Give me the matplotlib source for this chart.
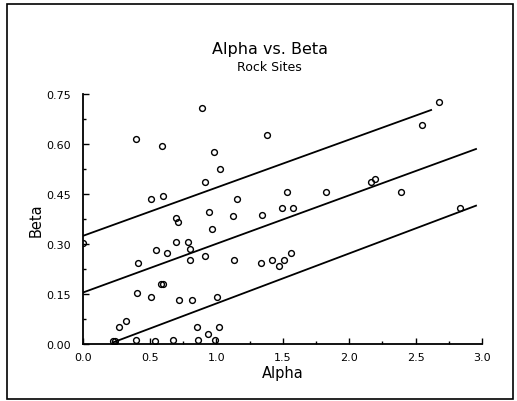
import matplotlib
matplotlib.use('Agg')
import matplotlib.pyplot as plt
from matplotlib.patches import Rectangle
from matplotlib.ticker import MultipleLocator

# Datos
alpha = [0.89, 0.395, 0.589, 0.985, 1.028, 0.917, 0.506, 0.601, 1.153, 0.694,
         0.714, 0.945, 1.128, 0.965, 0.0, 0.548, 0.626, 0.694, 0.785, 0.802,
         0.917, 0.804, 1.133, 0.41, 0.40, 0.508, 0.58, 0.60, 0.717, 0.817,
         1.008, 0.267, 0.318, 0.857, 1.018, 0.937, 0.22, 0.24, 0.393, 0.538,
         0.674, 0.86, 0.99, 2.679, 2.549, 1.384, 1.535, 1.828, 2.163, 2.193,
         2.393, 1.344, 1.497, 1.58, 2.833, 1.339, 1.417, 1.475, 1.512, 1.563]
beta = [0.707, 0.616, 0.595, 0.577, 0.526, 0.486, 0.435, 0.445, 0.436, 0.377,
        0.365, 0.395, 0.385, 0.345, 0.303, 0.283, 0.273, 0.305, 0.305, 0.285,
        0.264, 0.253, 0.252, 0.242, 0.152, 0.14, 0.18, 0.18, 0.131, 0.131,
        0.141, 0.05, 0.07, 0.051, 0.052, 0.031, 0.01, 0.01, 0.011, 0.01,
        0.011, 0.011, 0.011, 0.726, 0.657, 0.627, 0.457, 0.456, 0.486, 0.496,
        0.456, 0.386, 0.407, 0.407, 0.407, 0.243, 0.252, 0.233, 0.253, 0.274]

# Recta de ajuste y bandas (extremos leidos)
upper_x = [0.0, 2.617]
upper_y = [0.325, 0.702]
fit_x = [0.0, 2.955]
fit_y = [0.155, 0.585]
lower_x = [0.224, 2.955]
lower_y = [0.005, 0.415]

x_ticks = [0.0, 0.5, 1.0, 1.5, 2.0, 2.5, 3.0]
y_ticks = [0.00, 0.15, 0.30, 0.45, 0.60, 0.75]


def generar_grafica():
    fig = plt.figure(figsize=(5.17, 4.02), dpi=100)
    ax = fig.add_axes([0.1615, 0.1418, 0.7708, 0.6219])

    # Puntos y lineas
    ax.plot(alpha, beta, 'o', mfc='none', mec='black', ms=4.2, mew=1.0)
    for xs, ys in [(upper_x, upper_y), (fit_x, fit_y), (lower_x, lower_y)]:
        ax.plot(xs, ys, color='black', linewidth=1.3)

    # Ejes
    ax.set_xlim(0, 3.0)
    ax.set_ylim(0, 0.75)
    ax.set_xticks(x_ticks)
    ax.set_yticks(y_ticks)
    ax.set_xticklabels([f'{t:.1f}' for t in x_ticks])
    ax.set_yticklabels([f'{t:.2f}' for t in y_ticks])
    ax.xaxis.set_minor_locator(MultipleLocator(0.25))
    ax.yaxis.set_minor_locator(MultipleLocator(0.075))
    ax.tick_params(which='both', direction='in', labelsize=8, width=1)
    ax.tick_params(which='major', length=4)
    ax.tick_params(which='minor', length=2.5)
    ax.tick_params(axis='x', pad=6)
    ax.tick_params(axis='y', pad=9)
    for lado in ['top', 'right']:
        ax.spines[lado].set_visible(False)
    for lado in ['left', 'bottom']:
        ax.spines[lado].set_linewidth(1.3)

    ax.set_xlabel('Alpha', fontsize=10.5, labelpad=2)
    ax.set_ylabel('Beta', fontsize=10.5, labelpad=2)

    # Titulos
    fig.text(0.522, 0.876, 'Alpha vs. Beta', ha='center', va='center', fontsize=11.5)
    fig.text(0.522, 0.831, 'Rock Sites', ha='center', va='center', fontsize=9)

    # Marco exterior
    fig.patches.append(Rectangle((0.0135, 0.005), 0.978, 0.9826, transform=fig.transFigure,
                                 fill=False, edgecolor='black', linewidth=1.2))

    fig.savefig('out.png', dpi=100)


if __name__ == "__main__":
    generar_grafica()
